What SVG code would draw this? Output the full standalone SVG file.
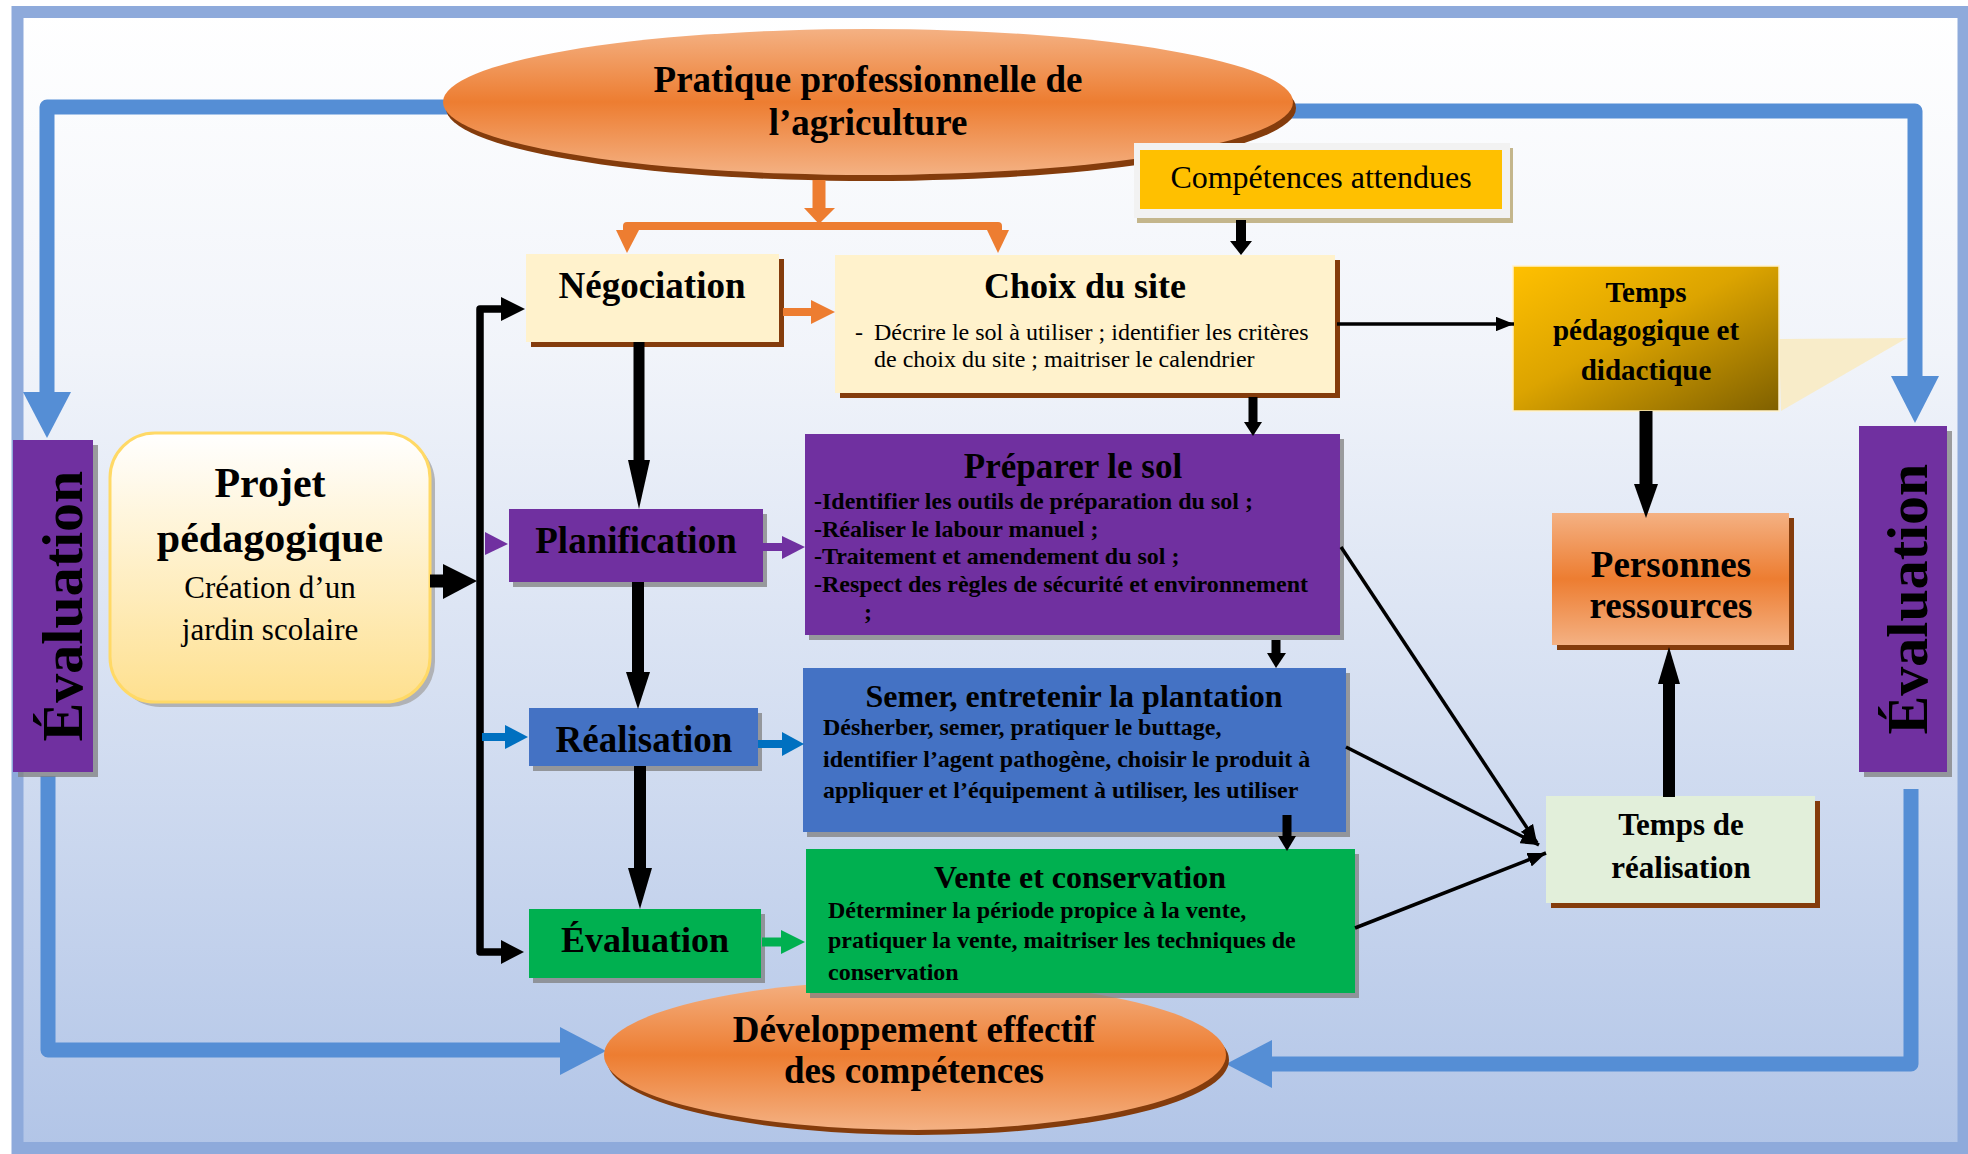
<svg xmlns="http://www.w3.org/2000/svg" width="1968" height="1154" viewBox="0 0 1968 1154">
  <defs>
    <linearGradient id="bg" x1="0" y1="0" x2="0" y2="1">
      <stop offset="0" stop-color="#ffffff"/>
      <stop offset="0.3" stop-color="#f1f4fa"/>
      <stop offset="1" stop-color="#b2c5e7"/>
    </linearGradient>
    <linearGradient id="orangeV" x1="0" y1="0" x2="0" y2="1">
      <stop offset="0" stop-color="#f4b183"/>
      <stop offset="0.5" stop-color="#ed7d31"/>
      <stop offset="1" stop-color="#f4b183"/>
    </linearGradient>
    <linearGradient id="goldDiag" x1="0" y1="0" x2="1" y2="1">
      <stop offset="0" stop-color="#ffc000"/>
      <stop offset="0.45" stop-color="#dca400"/>
      <stop offset="1" stop-color="#7f6000"/>
    </linearGradient>
    <linearGradient id="projetFill" x1="0" y1="0" x2="0" y2="1">
      <stop offset="0" stop-color="#ffffff"/>
      <stop offset="1" stop-color="#fee08f"/>
    </linearGradient>
    <marker id="thinHead" viewBox="0 0 10 8" refX="10" refY="4" markerWidth="5.2" markerHeight="4.2" orient="auto">
      <path d="M0,0 L10,4 L0,8 Z" fill="#000"/>
    </marker>
    <style>
      .t { font-family: "Liberation Serif", "Times New Roman", serif; fill: #000; }
      .b { font-weight: bold; }
      .c { text-anchor: middle; }
      .brown { fill: #843c0c; }
      .grey { fill: #7f7f7f; opacity: 0.75; }
      .blueLink { fill: none; stroke: #558ed5; stroke-width: 15; stroke-linejoin: round; }
      .blueHead { fill: #558ed5; }
      .blk { fill: none; stroke: #000; }
      .blkHead { fill: #000; }
      .thin { fill: none; stroke: #000; stroke-width: 3.5; marker-end: url(#thinHead); }
    </style>
  </defs>

  <!-- page frame -->
  <rect x="17.5" y="12" width="1946" height="1136" fill="url(#bg)" stroke="#8eaadb" stroke-width="12"/>

  <!-- feedback loops (drawn under the ellipses) -->
  <g id="loops">
    <path class="blueLink" d="M460 107 H47 V395"/>
    <polygon class="blueHead" points="23,392 71,392 47,438"/>
    <path class="blueLink" d="M1280 111 H1915 V378"/>
    <polygon class="blueHead" points="1891,376 1939,376 1915,423"/>
    <path class="blueLink" d="M48 776 V1050 H562"/>
    <polygon class="blueHead" points="560,1027 560,1075 606,1051"/>
    <path class="blueLink" d="M1911 789 V1064 H1270"/>
    <polygon class="blueHead" points="1272,1040 1272,1088 1226,1064"/>
  </g>

  <!-- nodes -->
  <g id="pratique">
    <ellipse cx="871" cy="108" rx="425" ry="73" class="brown"/>
    <ellipse cx="868" cy="102" rx="425" ry="73" fill="url(#orangeV)"/>
    <text class="t b c" x="868" y="92" font-size="37">Pratique professionnelle de</text>
    <text class="t b c" x="868" y="135" font-size="37">l’agriculture</text>
  </g>

  <g id="developpement">
    <ellipse cx="918" cy="1060" rx="311" ry="75" class="brown"/>
    <ellipse cx="915" cy="1055" rx="311" ry="75" fill="url(#orangeV)"/>
    <text class="t b c" x="914" y="1042" font-size="37">Développement effectif</text>
    <text class="t b c" x="914" y="1083" font-size="37">des compétences</text>
  </g>

  <g id="evaluation-gauche">
    <rect x="18" y="445" width="80" height="332" class="grey"/>
    <rect x="13" y="440" width="80" height="332" fill="#7030a0"/>
    <text class="t b c" font-size="58" transform="translate(82,606) rotate(-90)">Évaluation</text>
  </g>

  <g id="evaluation-droite">
    <rect x="1864" y="431" width="88" height="346" class="grey"/>
    <rect x="1859" y="426" width="88" height="346" fill="#7030a0"/>
    <text class="t b c" font-size="58" transform="translate(1927,599) rotate(-90)">Évaluation</text>
  </g>

  <g id="projet">
    <rect x="115" y="438" width="320" height="269" rx="45" fill="#a6a6a6" opacity="0.8"/>
    <rect x="110" y="433" width="320" height="269" rx="45" fill="url(#projetFill)" stroke="#ffd966" stroke-width="3"/>
    <text class="t b c" x="270" y="497" font-size="42">Projet</text>
    <text class="t b c" x="270" y="552" font-size="42">pédagogique</text>
    <text class="t c" x="270" y="598" font-size="31">Création d’un</text>
    <text class="t c" x="270" y="640" font-size="31">jardin scolaire</text>
  </g>

  <g id="negociation">
    <rect x="531" y="259" width="253" height="88" class="brown"/>
    <rect x="526" y="254" width="253" height="88" fill="#fff2cc"/>
    <text class="t b c" x="652" y="298" font-size="37">Négociation</text>
  </g>

  <g id="planification">
    <rect x="513" y="514" width="254" height="73" class="grey"/>
    <rect x="509" y="509" width="254" height="73" fill="#7030a0"/>
    <text class="t b c" x="636" y="553" font-size="37">Planification</text>
  </g>

  <g id="realisation">
    <rect x="533" y="713" width="229" height="58" class="grey"/>
    <rect x="529" y="708" width="229" height="58" fill="#4472c4"/>
    <text class="t b c" x="644" y="752" font-size="37">Réalisation</text>
  </g>

  <g id="evaluation-etape">
    <rect x="533" y="914" width="232" height="69" class="grey"/>
    <rect x="529" y="909" width="232" height="69" fill="#00b050"/>
    <text class="t b c" x="645" y="952" font-size="36">Évaluation</text>
  </g>

  <g id="competences">
    <rect x="1137" y="148" width="376" height="75" fill="#c4b68c"/>
    <rect x="1134" y="143" width="376" height="75" fill="#f2f2f2"/>
    <rect x="1140" y="150" width="362" height="59" fill="#ffc000"/>
    <text class="t c" x="1321" y="188" font-size="32">Compétences attendues</text>
  </g>

  <g id="choix-site">
    <rect x="840" y="260" width="500" height="138" class="brown"/>
    <rect x="835" y="255" width="500" height="138" fill="#fff2cc"/>
    <text class="t b c" x="1085" y="298" font-size="36">Choix du site</text>
    <text class="t" x="855" y="340" font-size="24">-</text>
    <text class="t" x="874" y="340" font-size="24">Décrire le sol à utiliser ; identifier les critères</text>
    <text class="t" x="874" y="367" font-size="24">de choix du site ; maitriser le calendrier</text>
  </g>

  <g id="temps-pedagogique">
    <polygon points="1779,339 1907,338 1781,411" fill="#f8ecc9"/>
    <rect x="1513" y="266" width="266" height="145" fill="url(#goldDiag)" stroke="#fff2cc" stroke-width="1.5"/>
    <text class="t b c" x="1646" y="302" font-size="29">Temps</text>
    <text class="t b c" x="1646" y="340" font-size="29">pédagogique et</text>
    <text class="t b c" x="1646" y="380" font-size="29">didactique</text>
  </g>

  <g id="personnes-ressources">
    <rect x="1557" y="518" width="237" height="132" class="brown"/>
    <rect x="1552" y="513" width="237" height="132" fill="url(#orangeV)"/>
    <text class="t b c" x="1671" y="577" font-size="37">Personnes</text>
    <text class="t b c" x="1671" y="618" font-size="37">ressources</text>
  </g>

  <g id="temps-realisation">
    <rect x="1551" y="801" width="269" height="107" class="brown"/>
    <rect x="1546" y="796" width="269" height="107" fill="#e2efda"/>
    <text class="t b c" x="1681" y="835" font-size="31">Temps de</text>
    <text class="t b c" x="1681" y="878" font-size="31">réalisation</text>
  </g>

  <g id="preparer-sol">
    <rect x="809" y="439" width="535" height="201" class="grey"/>
    <rect x="805" y="434" width="535" height="201" fill="#7030a0"/>
    <text class="t b c" x="1073" y="478" font-size="35">Préparer le sol</text>
    <text class="t b" x="814" y="509" font-size="24">-Identifier les outils de préparation du sol ;</text>
    <text class="t b" x="814" y="537" font-size="24">-Réaliser le labour manuel ;</text>
    <text class="t b" x="814" y="564" font-size="24">-Traitement et amendement du sol ;</text>
    <text class="t b" x="814" y="592" font-size="24">-Respect des règles de sécurité et environnement</text>
    <text class="t b" x="864" y="620" font-size="24">;</text>
  </g>

  <g id="semer">
    <rect x="807" y="673" width="543" height="164" class="grey"/>
    <rect x="803" y="668" width="543" height="164" fill="#4472c4"/>
    <text class="t b c" x="1074" y="707" font-size="32">Semer, entretenir la plantation</text>
    <text class="t b" x="823" y="735" font-size="24">Désherber, semer, pratiquer le buttage,</text>
    <text class="t b" x="823" y="767" font-size="24">identifier l’agent pathogène, choisir le produit à</text>
    <text class="t b" x="823" y="798" font-size="24">appliquer et l’équipement à utiliser, les utiliser</text>
  </g>

  <g id="vente">
    <rect x="810" y="854" width="549" height="144" class="grey"/>
    <rect x="806" y="849" width="549" height="144" fill="#00b050"/>
    <text class="t b c" x="1080" y="888" font-size="32">Vente et conservation</text>
    <text class="t b" x="828" y="918" font-size="24">Déterminer la période propice à la vente,</text>
    <text class="t b" x="828" y="948" font-size="24">pratiquer la vente, maitriser les techniques de</text>
    <text class="t b" x="828" y="980" font-size="24">conservation</text>
  </g>

  <!-- connectors -->
  <g id="connectors">
    <!-- orange split from the top ellipse -->
    <line x1="819" y1="180" x2="819" y2="212" stroke="#ed7d31" stroke-width="13"/>
    <polygon points="804,208 835,208 819,224" fill="#ed7d31"/>
    <path d="M627 234 V226 H998 V234" fill="none" stroke="#ed7d31" stroke-width="8" stroke-linejoin="round"/>
    <polygon points="616,230 639,230 627,253" fill="#ed7d31"/>
    <polygon points="987,230 1009,230 998,253" fill="#ed7d31"/>
    <line x1="783" y1="312" x2="813" y2="312" stroke="#ed7d31" stroke-width="8"/>
    <polygon points="811,300 811,324 835,312" fill="#ed7d31"/>

    <!-- expected skills -> site choice -->
    <line class="blk" x1="1241" y1="220" x2="1241" y2="243" stroke-width="10"/>
    <polygon class="blkHead" points="1230,241 1252,241 1241,255"/>

    <!-- site choice -> teaching time -->
    <line class="thin" x1="1337" y1="324" x2="1514" y2="324" stroke-width="4.5"/>

    <!-- right-hand chain -->
    <line class="blk" x1="1253" y1="397" x2="1253" y2="424" stroke-width="9"/>
    <polygon class="blkHead" points="1244,422 1262,422 1253,436"/>
    <line class="blk" x1="1276" y1="640" x2="1276" y2="655" stroke-width="9"/>
    <polygon class="blkHead" points="1267,653 1286,653 1276,668"/>
    <line class="blk" x1="1287" y1="815" x2="1287" y2="838" stroke-width="9"/>
    <polygon class="blkHead" points="1278,836 1296,836 1287,851"/>

    <!-- resources -->
    <line class="blk" x1="1646" y1="411" x2="1646" y2="486" stroke-width="13"/>
    <polygon class="blkHead" points="1634,484 1658,484 1646,518"/>
    <line class="blk" x1="1669" y1="797" x2="1669" y2="682" stroke-width="12"/>
    <polygon class="blkHead" points="1658,684 1680,684 1669,647"/>

    <!-- activities -> execution time -->
    <line class="thin" x1="1341" y1="547" x2="1537" y2="843"/>
    <line class="thin" x1="1346" y1="747" x2="1539" y2="845"/>
    <line class="thin" x1="1355" y1="928" x2="1546" y2="853"/>

    <!-- main sequence -->
    <line class="blk" x1="639" y1="342" x2="639" y2="462" stroke-width="11"/>
    <polygon class="blkHead" points="628,460 650,460 639,509"/>
    <line class="blk" x1="638" y1="582" x2="638" y2="674" stroke-width="12"/>
    <polygon class="blkHead" points="626,672 650,672 638,709"/>
    <line class="blk" x1="640" y1="766" x2="640" y2="870" stroke-width="12"/>
    <polygon class="blkHead" points="628,868 652,868 640,909"/>

    <!-- bracket from the project -->
    <line class="blk" x1="430" y1="581" x2="446" y2="581" stroke-width="13"/>
    <polygon class="blkHead" points="443,564 443,599 477,581"/>
    <path class="blk" d="M503 309 H480 V952 H503" stroke-width="7.5" stroke-linejoin="round"/>
    <polygon class="blkHead" points="501,297 501,321 525,309"/>
    <polygon class="blkHead" points="501,940 501,964 524,952"/>

    <!-- coloured stage arrows -->
    <polygon points="485,532 485,555 508,544" fill="#7030a0"/>
    <line x1="763" y1="547" x2="784" y2="547" stroke="#7030a0" stroke-width="8"/>
    <polygon points="782,536 782,559 805,547" fill="#7030a0"/>
    <line x1="482" y1="737" x2="507" y2="737" stroke="#0070c0" stroke-width="8"/>
    <polygon points="505,725 505,749 528,737" fill="#0070c0"/>
    <line x1="758" y1="744" x2="784" y2="744" stroke="#0070c0" stroke-width="8"/>
    <polygon points="782,732 782,756 804,744" fill="#0070c0"/>
    <line x1="762" y1="942" x2="783" y2="942" stroke="#00b050" stroke-width="9"/>
    <polygon points="781,930 781,954 805,942" fill="#00b050"/>
  </g>
</svg>
